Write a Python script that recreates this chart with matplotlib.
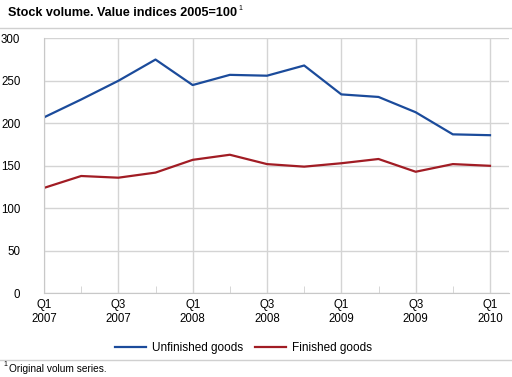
import matplotlib
matplotlib.use("Agg")
import matplotlib.pyplot as plt
from matplotlib.lines import Line2D

plt.rcParams['font.family'] = ['Liberation Sans', 'DejaVu Sans']

quarters = list(range(13))
tick_labels = ["Q1\n2007", "Q3\n2007", "Q1\n2008", "Q3\n2008", "Q1\n2009", "Q3\n2009", "Q1\n2010"]
unfinished = [207, 228, 250, 275, 245, 257, 256, 268, 234, 231, 213, 187, 186]
finished = [124, 138, 136, 142, 157, 163, 152, 149, 153, 158, 143, 152, 150]

W, H = 512, 377
fig = plt.figure(figsize=(W / 100, H / 100), dpi=100)
ax = fig.add_axes([44 / W, 1 - 293.3 / H, (509 - 44) / W, (293.3 - 38.3) / H])

blue = "#1b4b9b"
red = "#a11c24"
ax.plot(quarters, unfinished, color=blue, lw=1.6, label="Unfinished goods")
ax.plot(quarters, finished, color=red, lw=1.6, label="Finished goods")

ax.set_ylim(0, 300)
ax.set_xlim(0, 12 * (509 - 44) / (490 - 44))
ax.set_yticks(range(0, 301, 50))
ax.set_xticks(range(0, 13, 2))
ax.set_xticklabels(tick_labels)
ax.set_xticks(range(1, 13, 2), minor=True)
ax.grid(True, which="major", color="#d4d4d4", lw=1)
ax.set_axisbelow(True)
for s in ["top", "right"]:
    ax.spines[s].set_visible(False)
for s in ["left", "bottom"]:
    ax.spines[s].set_color("#c8c8c8")
ax.tick_params(axis="y", length=0, pad=17, labelsize=8.3, colors="black")
ax.tick_params(axis="x", which="major", length=0, pad=4, labelsize=8.3)
ax.tick_params(axis="x", which="minor", direction="in", length=5, color="#d0d0d0")

title = fig.text(8 / W, 1 - 12.5 / H, "Stock volume. Value indices 2005=100", fontsize=9.1,
                 fontweight="bold", va="center", ha="left")
fig.canvas.draw()
bb = title.get_window_extent()
fig.text(bb.x1 / W + 1.5 / W, 1 - 9 / H, "1", fontsize=5, va="center", ha="left")
fig.add_artist(Line2D([0, 1], [1 - 28 / H, 1 - 28 / H], color="#d0d0d0", lw=1))

handles = [Line2D([], [], color=blue, lw=1.6), Line2D([], [], color=red, lw=1.6)]
fig.legend(handles, ["Unfinished goods", "Finished goods"], loc="center",
           bbox_to_anchor=(243.5 / W, 1 - 348 / H), ncol=2, frameon=False,
           fontsize=8.5, handlelength=2.6, columnspacing=1.0, handletextpad=0.5)

fig.add_artist(Line2D([0, 1], [1 - 359.5 / H, 1 - 359.5 / H], color="#d0d0d0", lw=1))
fig.text(3.5 / W, 1 - 365 / H, "1", fontsize=5, va="center", ha="left")
fig.text(9 / W, 1 - 368.5 / H, "Original volum series.", fontsize=7.3, va="center", ha="left")

fig.savefig("out.png", dpi=100)
